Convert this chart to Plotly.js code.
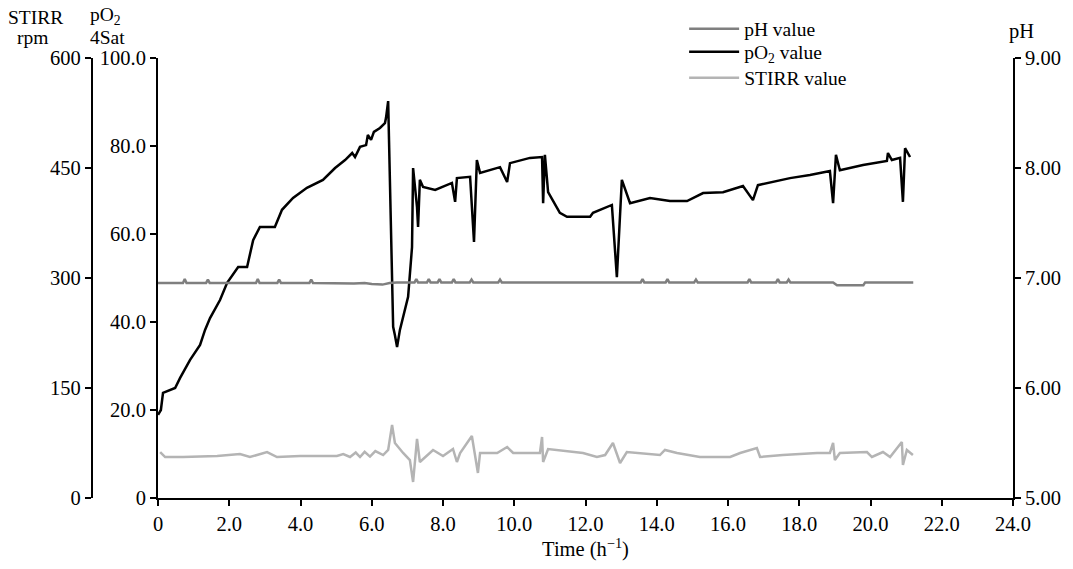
<!DOCTYPE html>
<html>
<head>
<meta charset="utf-8">
<script src="https://cdn.plot.ly/plotly-3.0.1.min.js"></script>
<style>html,body{margin:0;padding:0;background:#fff;}#chart{width:1073px;height:569px;}</style>
</head>
<body>
<div id="chart"></div>
<script>
// Time (h) and pO2 (%Sat)
const po2Time = [0,0.08,0.14,0.28,0.48,0.62,0.90,1.18,1.32,1.46,1.74,1.94,2.25,2.50,2.67,2.86,3.28,3.48,3.79,4.18,4.63,4.97,5.25,5.45,5.53,5.67,5.84,5.89,5.98,6.06,6.23,6.37,6.40,6.46,6.51,6.60,6.65,6.71,6.79,7.02,7.13,7.16,7.27,7.30,7.35,7.44,7.78,8.25,8.34,8.39,8.76,8.87,8.95,9.04,9.60,9.80,9.88,10.44,10.78,10.81,10.86,10.95,11.28,11.48,12.13,12.21,12.74,12.88,13.02,13.25,13.81,14.37,14.85,15.30,15.86,16.42,16.70,16.84,17.74,18.30,18.86,18.95,19.03,19.14,19.79,20.46,20.49,20.60,20.83,20.91,20.97,21.11];
const po2Value = [18.9,20.0,23.9,24.3,25.0,27.3,31.4,34.8,38.2,40.9,45.0,48.9,52.5,52.5,58.6,61.6,61.6,65.5,68.2,70.5,72.3,75.0,76.8,78.4,77.5,79.8,80.2,82.5,81.4,83.2,84.1,85.2,86.4,90.2,72.3,38.9,37.0,34.3,38.2,45.7,57.0,75.0,66.1,61.6,72.3,70.7,70.0,71.6,67.3,72.7,73.0,58.2,76.8,73.9,75.2,71.8,76.1,77.3,77.5,67.0,78.0,69.5,64.8,63.9,63.9,64.8,66.6,50.2,72.3,67.0,68.2,67.5,67.5,69.3,69.5,70.9,67.7,71.1,72.7,73.4,74.3,67.0,78.0,74.5,75.7,76.6,78.4,76.8,77.3,67.3,79.5,77.5];

// Time (h) and stirrer speed (rpm)
const stirTime = [0.06,0.20,0.70,1.66,2.30,2.58,3.06,3.34,3.99,5.02,5.20,5.39,5.55,5.67,5.80,5.95,6.10,6.32,6.46,6.57,6.65,6.88,7.07,7.16,7.27,7.35,7.72,8.00,8.28,8.39,8.48,8.81,8.98,9.04,9.52,9.80,9.97,10.72,10.78,10.81,10.95,11.93,12.32,12.55,12.77,12.97,13.16,14.09,14.23,14.57,15.21,16.06,16.34,16.81,16.90,17.54,18.50,18.86,18.95,19.00,19.14,19.90,20.04,20.35,20.55,20.88,20.91,21.02,21.19];
const stirValue = [62.7,55.9,55.9,57.3,60.0,55.9,62.7,55.9,57.3,57.3,60.0,55.9,62.0,55.9,63.0,56.5,64.0,58.6,65.5,99.5,75.0,61.4,51.8,21.8,80.5,49.1,65.5,57.3,66.8,49.1,61.4,84.5,34.1,61.4,61.4,69.5,61.4,61.4,83.2,49.1,66.8,61.4,55.9,58.6,75.0,47.7,62.7,58.6,65.5,61.4,55.9,55.9,61.4,68.2,55.9,58.6,61.4,61.4,75.0,51.8,61.4,62.7,55.9,62.7,55.9,76.4,45.0,65.5,58.6];

// Time (h) and pH
const phTime = [0,0.70,0.75,0.80,1.35,1.40,1.45,2.75,2.80,2.85,3.35,3.40,3.45,4.25,4.30,4.35,5.50,5.80,6.00,6.30,6.50,6.70,7.20,7.25,7.30,7.55,7.60,7.65,7.85,7.90,7.95,8.25,8.30,8.35,8.75,8.80,8.85,9.55,9.60,9.65,12.90,13.55,13.60,13.65,14.25,14.30,14.35,15.05,15.10,15.15,16.55,16.60,16.65,17.35,17.40,17.45,17.65,17.70,17.75,18.95,19.06,19.80,19.85,21.20];
const phValue = [6.955,6.955,6.99,6.955,6.955,6.985,6.955,6.955,6.99,6.955,6.955,6.985,6.955,6.955,6.985,6.955,6.95,6.955,6.945,6.94,6.955,6.96,6.96,6.99,6.96,6.96,6.99,6.96,6.96,6.99,6.96,6.96,6.99,6.96,6.96,6.985,6.96,6.96,6.985,6.96,6.96,6.96,6.99,6.96,6.96,6.99,6.96,6.96,6.985,6.96,6.96,6.99,6.96,6.96,6.99,6.96,6.96,6.985,6.96,6.96,6.935,6.935,6.96,6.96];

const xTicks = [0,2,4,6,8,10,12,14,16,18,20,22,24];
const xTickText = ['0','2.0','4.0','6.0','8.0','10.0','12.0','14.0','16.0','18.0','20.0','22.0','24.0'];
const po2Ticks = [0,20,40,60,80,100];
const po2TickText = ['0','20.0','40.0','60.0','80.0','100.0'];
const stirTicks = [0,150,300,450,600];
const stirTickText = ['0','150','300','450','600'];
const phTicks = [5,6,7,8,9];
const phTickText = ['5.00','6.00','7.00','8.00','9.00'];

const FONT = 'Liberation Serif, Times New Roman, serif';
const FS = 20.5;
const TFS = 19.5;

const traces = [
  {x: po2Time, y: po2Value, type: 'scatter', mode: 'lines', name: 'pO<sub>2</sub> value',
   line: {color: '#000000', width: 2.5}, yaxis: 'y', legend: 'legend2'},
  {x: stirTime, y: stirValue, type: 'scatter', mode: 'lines', name: 'STIRR value',
   line: {color: '#b4b4b4', width: 2.5}, yaxis: 'y2', legend: 'legend3'},
  {x: phTime, y: phValue, type: 'scatter', mode: 'lines', name: 'pH value',
   line: {color: '#7f7f7f', width: 2.5}, yaxis: 'y3', legend: 'legend'}
];

const axisCommon = {
  showgrid: false, zeroline: false, showline: true, linecolor: '#000', linewidth: 2,
  ticks: 'outside', ticklen: 6, tickwidth: 2, tickcolor: '#000',
  tickfont: {family: FONT, size: FS, color: '#000'}, fixedrange: true, automargin: false
};

const ann = (text, x, y, xanchor, size) => ({text, xref: 'paper', yref: 'paper', x, y, xanchor, yanchor: 'middle',
  showarrow: false, font: {family: FONT, size: size || TFS, color: '#000'}});

const leg = (y) => ({x: 0.662, y, xanchor: 'left', yanchor: 'middle', bgcolor: 'rgba(0,0,0,0)',
  font: {family: FONT, size: 19.5, color: '#000'}, itemwidth: 50});

const layout = {
  width: 1073, height: 569,
  margin: {l: 40, r: 60, t: 58, b: 71, autoexpand: false},
  paper_bgcolor: '#fff', plot_bgcolor: '#fff',
  font: {family: FONT, size: FS, color: '#000'},
  showlegend: true,
  legend: leg(1.066),
  legend2: leg(1.0136),
  legend3: leg(0.9545),
  xaxis: Object.assign({}, axisCommon, {
    domain: [0.1213, 1], range: [0, 24], tickvals: xTicks, ticktext: xTickText, anchor: 'y',
    title: {text: 'Time (h<sup>−1</sup>)', font: {family: FONT, size: FS, color: '#000'}, standoff: 6}
  }),
  yaxis: Object.assign({}, axisCommon, {
    range: [0, 100], tickvals: po2Ticks, ticktext: po2TickText, anchor: 'x', side: 'left'
  }),
  yaxis2: Object.assign({}, axisCommon, {
    range: [0, 600], tickvals: stirTicks, ticktext: stirTickText, overlaying: 'y',
    anchor: 'free', position: 0.0534, side: 'left'
  }),
  yaxis3: Object.assign({}, axisCommon, {
    range: [5, 9], tickvals: phTicks, ticktext: phTickText, overlaying: 'y',
    anchor: 'x', side: 'right'
  }),
  annotations: [
    ann('STIRR', -0.035, 1.093, 'left'),
    ann('rpm', -0.026, 1.0455, 'left'),
    ann('pO<sub>2</sub>', 0.049, 1.0955, 'left'),
    ann('4Sat', 0.049, 1.0455, 'left'),
    ann('pH', 0.994, 1.061, 'left', FS)
  ]
};

Plotly.newPlot('chart', traces, layout, {staticPlot: true, displayModeBar: false});
</script>
</body>
</html>
